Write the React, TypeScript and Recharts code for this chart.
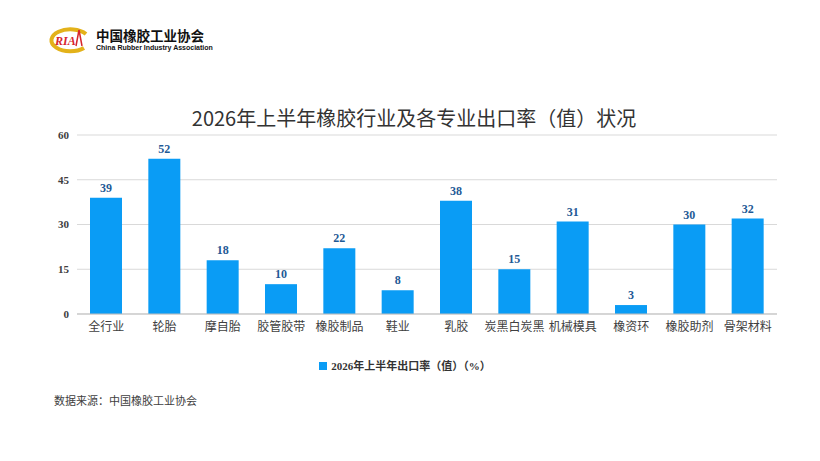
import React from 'react';
import { BarChart, Bar, XAxis, YAxis, CartesianGrid, LabelList, Legend } from 'recharts';

const categories = ['全行业', '轮胎', '摩自胎', '胶管胶带', '橡胶制品', '鞋业', '乳胶', '炭黑白炭黑', '机械模具', '橡资环', '橡胶助剂', '骨架材料'];
const exportRate = [39, 52, 18, 10, 22, 8, 38, 15, 31, 3, 30, 32];
const yTicks = [0, 15, 30, 45, 60];

const seriesName = '2026年上半年出口率（值）（%）';

const data = categories.map((name, i) => ({ name, value: exportRate[i] }));

const SANS = '"Noto Sans CJK SC", "Microsoft YaHei", sans-serif';
const SERIF = '"Liberation Serif", "Times New Roman", "Noto Sans CJK SC", serif';

const Logo = () => (
    <div style={{ position: 'absolute', left: 46, top: 26, display: 'flex', alignItems: 'center' }}>
        <svg width={46} height={28} viewBox="0 0 46 28">
            <path d="M40 8 A19 11 0 1 0 38 22" fill="none" stroke="#e3b21a" strokeWidth={4} />
            <text x={9} y={19} fontFamily={SERIF} fontWeight="bold" fontStyle="italic" fontSize={12} fill="#d7262b">RIA</text>
            <path d="M33 4 L36 20 M33 4 L30 20" stroke="#d7262b" strokeWidth={1.5} />
        </svg>
        <div style={{ marginLeft: 4 }}>
            <div style={{ fontFamily: SANS, fontWeight: 'bold', fontSize: 13.5, lineHeight: '15px', color: '#111' }}>中国橡胶工业协会</div>
            <div style={{ fontFamily: '"Liberation Sans", Arial, sans-serif', fontWeight: 'bold', fontSize: 7, lineHeight: '9px', color: '#111' }}>
                China Rubber Industry Association
            </div>
        </div>
    </div>
);

export default function App() {
    return (
        <div style={{ position: 'absolute', left: 0, top: 0, width: 820, height: 461, background: '#fff', overflow: 'hidden' }}>
            <Logo />
            <div
                style={{
                    position: 'absolute',
                    top: 105,
                    left: 0,
                    width: 828,
                    textAlign: 'center',
                    fontFamily: SANS,
                    fontSize: 20,
                    color: '#333',
                    lineHeight: '26px'
                }}
            >
                2026年上半年橡胶行业及各专业出口率（值）状况
            </div>
            <div style={{ position: 'absolute' as const, left: 0, top: 0 }}>
                {/* legend height (~18) is added to the top offset, x axis (30) to the bottom */}
                <BarChart width={820} height={461} data={data} margin={{ top: 117, right: 43, left: 37, bottom: 117 }}>
                    <CartesianGrid vertical={false} stroke="#d9d9d9" />
                    <XAxis
                        dataKey="name"
                        height={30}
                        tickLine={false}
                        axisLine={{ stroke: '#bfbfbf' }}
                        tick={{ fontFamily: SANS, fontSize: 12, fill: '#404040' }}
                        interval={0}
                    />
                    <YAxis
                        width={40}
                        domain={[0, 60]}
                        ticks={yTicks}
                        axisLine={false}
                        tickLine={false}
                        tick={{ fontFamily: SERIF, fontSize: 11, fontWeight: 'bold', fill: '#404040' }}
                    />
                    <Legend
                        verticalAlign="top"
                        iconType="square"
                        iconSize={8}
                        wrapperStyle={{ top: 356, left: 0, width: 820 }}
                        formatter={(v) => (
                            <span style={{ fontFamily: SERIF, fontWeight: 'bold', fontSize: 11, color: '#333' }}>{v}</span>
                        )}
                    />
                    <Bar dataKey="value" name={seriesName} fill="#0a9cf5" barSize={32} isAnimationActive={false}>
                        <LabelList
                            dataKey="value"
                            position="top"
                            offset={6}
                            style={{ fontFamily: SERIF, fontWeight: 'bold', fontSize: 12, fill: '#1f5a96' }}
                        />
                    </Bar>
                </BarChart>
            </div>
            <div
                style={{
                    position: 'absolute',
                    left: 54,
                    top: 392,
                    fontFamily: SANS,
                    fontSize: 11,
                    color: '#404040',
                    lineHeight: '16px'
                }}
            >
                数据来源：中国橡胶工业协会
            </div>
        </div>
    );
}
